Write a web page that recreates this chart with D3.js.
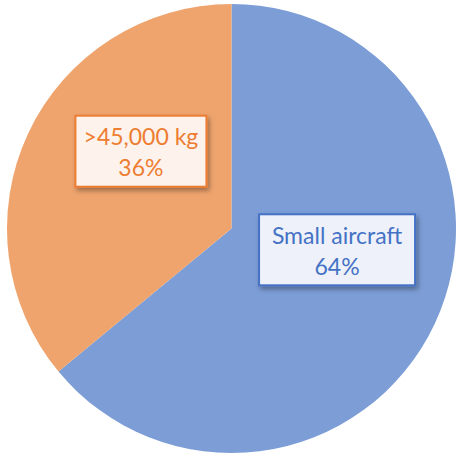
<!DOCTYPE html>
<html><head><meta charset="utf-8">
<script src="https://cdn.jsdelivr.net/npm/d3@7"></script>
<style>html,body{margin:0;padding:0;background:#fff;}svg{display:block;}</style>
</head><body>
<svg id="c" width="459" height="456"></svg>
<script>
const categories = ["Small aircraft", ">45,000 kg"];
const values = [64, 36];
const percentLabels = ["64%", "36%"];
const fills = ["#7C9DD6", "#EFA46E"];
const strokes = ["#4472C4", "#ED7D31"];
const boxFills = ["#EEF1FA", "#FDF2EC"];

const svg = d3.select("#c");
const cx = 231.5, cy = 228.5, R = 224.5;
const defs = svg.append("defs");
const f = defs.append("filter").attr("id","sh").attr("x","-20%").attr("y","-20%").attr("width","150%").attr("height","160%");
f.append("feDropShadow").attr("dx",2).attr("dy",3).attr("stdDeviation",2.5).attr("flood-color","#000").attr("flood-opacity",0.35);

const pie = d3.pie().sort(null).value(d => d);
const arcs = pie(values);
const arc = d3.arc().innerRadius(0).outerRadius(R);
const g = svg.append("g").attr("transform", `translate(${cx},${cy})`);
g.selectAll("path.slice").data(arcs).join("path").attr("class","slice")
  .attr("d", arc).attr("fill", (d,i) => fills[i]);

// label placement (Excel best-fit style)
const labelArc = d3.arc().innerRadius(0).outerRadius(R * 1.0);
const adj = [[4, -26.5], [11, -29.5]];
const boxW = [156, 131], boxH = 71;
const lg = g.selectAll("g.lab").data(arcs).join("g").attr("class","lab")
  .attr("transform", (d,i) => { const c = labelArc.centroid(d); return `translate(${c[0]+adj[i][0]},${c[1]+adj[i][1]})`; });
lg.append("rect").attr("x",(d,i)=>-boxW[i]/2).attr("y",-boxH/2).attr("width",(d,i)=>boxW[i]).attr("height",boxH)
  .attr("fill",(d,i)=>boxFills[i]).attr("stroke",(d,i)=>strokes[i]).attr("stroke-width",2).attr("filter","url(#sh)");
lg.append("text").attr("text-anchor","middle").attr("y",-6).attr("font-family","Lato, sans-serif").attr("font-size",23)
  .attr("fill",(d,i)=>strokes[i]).text((d,i)=>categories[i]);
lg.append("text").attr("text-anchor","middle").attr("y",25).attr("font-family","Lato, sans-serif").attr("font-size",23)
  .attr("fill",(d,i)=>strokes[i]).text((d,i)=>percentLabels[i]);
</script>
</body></html>
